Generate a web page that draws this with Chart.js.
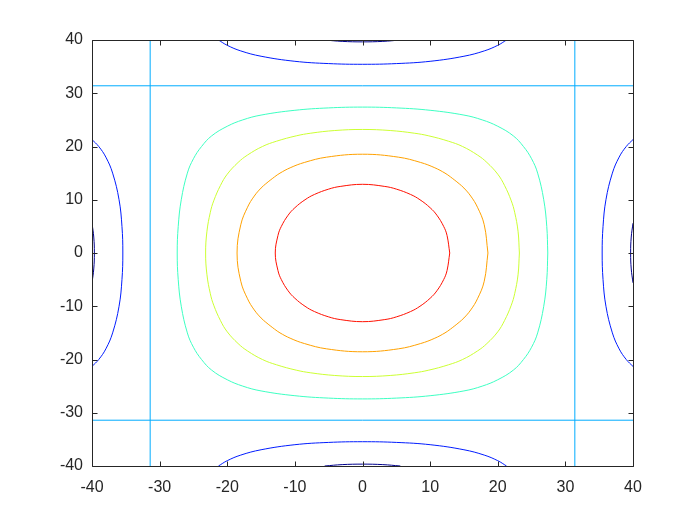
<!DOCTYPE html>
<html>
<head>
<meta charset="utf-8">
<script src="https://cdn.jsdelivr.net/npm/chart.js@4"></script>
<style>
html,body{margin:0;padding:0;background:#fff;}
canvas{display:block;}
</style>
</head>
<body>
<canvas id="c" width="700" height="525"></canvas>
<script>
// Axis tick values
const xTicks = [-40,-30,-20,-10,0,10,20,30,40];
const yTicks = [-40,-30,-20,-10,0,10,20,30,40];

// Contour levels and colours (jet colormap)
const levels = [0.8, 0.6, 0.4, 0.2, 0, -0.2, -0.4];
const levelColors = ['#ff1000','#ffa100','#ccff33','#3dffc2','#00acff','#001cff','#00008c'];

// Contour level 0.8 (red, closed loop)
const level08 = [[12.9,0],[12.5,3.3],[12,5],[11,7.1],[10,8.5],[8.5,10],[7.1,11],[5,12],[3.3,12.5],[0,12.9],
  [-3.3,12.5],[-5,12],[-7.1,11],[-8.5,10],[-10,8.5],[-11,7.1],[-12,5],[-12.5,3.3],[-12.9,0],
  [-12.5,-3.3],[-12,-5],[-11,-7.1],[-10,-8.5],[-8.5,-10],[-7.1,-11],[-5,-12],[-3.3,-12.5],[0,-12.9],
  [3.3,-12.5],[5,-12],[7.1,-11],[8.5,-10],[10,-8.5],[11,-7.1],[12,-5],[12.5,-3.3],[12.9,0]];

// Contour level 0.6 (orange, closed loop)
const level06 = [[18.55,0],[18,5.3],[17,8.6],[16,10.7],[15,12.2],[14.3,13],[13,14.3],[12.2,15],[10.7,16],[8.6,17],[5.3,18],[0,18.55],
  [-5.3,18],[-8.6,17],[-10.7,16],[-12.2,15],[-13,14.3],[-14.3,13],[-15,12.2],[-16,10.7],[-17,8.6],[-18,5.3],[-18.55,0],
  [-18,-5.3],[-17,-8.6],[-16,-10.7],[-15,-12.2],[-14.3,-13],[-13,-14.3],[-12.2,-15],[-10.7,-16],[-8.6,-17],[-5.3,-18],[0,-18.55],
  [5.3,-18],[8.6,-17],[10.7,-16],[12.2,-15],[13,-14.3],[14.3,-13],[15,-12.2],[16,-10.7],[17,-8.6],[18,-5.3],[18.55,0]];

// Contour level 0.4 (yellow, closed loop)
const level04 = [[23.2,0],[23,4.1],[22.5,7.65],[22,9.8],[21,12.7],[20,14.8],[18.4,17],[17,18.4],[14.8,20],[12.7,21],[9.8,22],[7.65,22.5],[4.1,23],[0,23.2],
  [-4.1,23],[-7.65,22.5],[-9.8,22],[-12.7,21],[-14.8,20],[-17,18.4],[-18.4,17],[-20,14.8],[-21,12.7],[-22,9.8],[-22.5,7.65],[-23,4.1],[-23.2,0],
  [-23,-4.1],[-22.5,-7.65],[-22,-9.8],[-21,-12.7],[-20,-14.8],[-18.4,-17],[-17,-18.4],[-14.8,-20],[-12.7,-21],[-9.8,-22],[-7.65,-22.5],[-4.1,-23],[0,-23.2],
  [4.1,-23],[7.65,-22.5],[9.8,-22],[12.7,-21],[14.8,-20],[17,-18.4],[18.4,-17],[20,-14.8],[21,-12.7],[22,-9.8],[22.5,-7.65],[23,-4.1],[23.2,0]];

// Contour level 0.2 (aquamarine, closed loop)
const level02 = [[27.4,0],[27.25,5],[26.8,10],[25.9,15],[25,17.7],[23.8,20],[22.3,22],[20,23.8],[17.7,25],[15,25.9],[10,26.8],[5,27.25],[0,27.4],
  [-5,27.25],[-10,26.8],[-15,25.9],[-17.7,25],[-20,23.8],[-22.3,22],[-23.8,20],[-25,17.7],[-25.9,15],[-26.8,10],[-27.25,5],[-27.4,0],
  [-27.25,-5],[-26.8,-10],[-25.9,-15],[-25,-17.7],[-23.8,-20],[-22.3,-22],[-20,-23.8],[-17.7,-25],[-15,-25.9],[-10,-26.8],[-5,-27.25],[0,-27.4],
  [5,-27.25],[10,-26.8],[15,-25.9],[17.7,-25],[20,-23.8],[22.3,-22],[23.8,-20],[25,-17.7],[25.9,-15],[26.8,-10],[27.25,-5],[27.4,0]];

// Contour level 0 (straight lines)
const level0Left = [[-31.4,-40],[-31.4,40]];
const level0Right = [[31.4,-40],[31.4,40]];
const level0Top = [[-40,31.4],[40,31.4]];
const level0Bottom = [[-40,-31.4],[40,-31.4]];

// Contour level -0.2 (blue arcs)
const levelM02Top = [[-21.3,40],[-20,39],[-18,37.95],[-15,36.95],[-10,36],[-5,35.57],[0,35.44],[5,35.57],[10,36],[15,36.95],[18,37.95],[20,39],[21.3,40]];
const levelM02Bottom = [[-21.3,-40],[-20,-39],[-18,-37.95],[-15,-36.95],[-10,-36],[-5,-35.57],[0,-35.44],[5,-35.57],[10,-36],[15,-36.95],[18,-37.95],[20,-39],[21.3,-40]];
const levelM02Left = [[-40,-21.3],[-39,-20],[-37.95,-18],[-36.95,-15],[-36,-10],[-35.57,-5],[-35.44,0],[-35.57,5],[-36,10],[-36.95,15],[-37.95,18],[-39,20],[-40,21.3]];
const levelM02Right = [[40,-21.3],[39,-20],[37.95,-18],[36.95,-15],[36,-10],[35.57,-5],[35.44,0],[35.57,5],[36,10],[36.95,15],[37.95,18],[39,20],[40,21.3]];

// Contour level -0.4 (dark blue arcs at the edges)
const levelM04Top = [[-5.6,40],[-3,39.74],[0,39.65],[3,39.74],[5.6,40]];
const levelM04Bottom = [[-5.6,-40],[-3,-39.74],[0,-39.65],[3,-39.74],[5.6,-40]];
const levelM04Left = [[-40,-5.6],[-39.74,-3],[-39.65,0],[-39.74,3],[-40,5.6]];
const levelM04Right = [[40,-5.6],[39.74,-3],[39.65,0],[39.74,3],[40,5.6]];

const contourSets = [
  {pts: level08, lvl: 0, curved: true},
  {pts: level06, lvl: 1, curved: true},
  {pts: level04, lvl: 2, curved: true},
  {pts: level02, lvl: 3, curved: true},
  {pts: level0Left, lvl: 4, curved: false},
  {pts: level0Right, lvl: 4, curved: false},
  {pts: level0Top, lvl: 4, curved: false},
  {pts: level0Bottom, lvl: 4, curved: false},
  {pts: levelM02Top, lvl: 5, curved: true},
  {pts: levelM02Bottom, lvl: 5, curved: true},
  {pts: levelM02Left, lvl: 5, curved: true},
  {pts: levelM02Right, lvl: 5, curved: true},
  {pts: levelM04Top, lvl: 6, curved: true},
  {pts: levelM04Bottom, lvl: 6, curved: true},
  {pts: levelM04Left, lvl: 6, curved: true},
  {pts: levelM04Right, lvl: 6, curved: true}
];

const datasets = contourSets.map(s => ({
  label: 'level ' + levels[s.lvl],
  data: s.pts.map(p => ({x: p[0], y: p[1]})),
  showLine: true,
  borderColor: levelColors[s.lvl],
  backgroundColor: levelColors[s.lvl],
  borderWidth: 1,
  pointRadius: 0,
  pointHoverRadius: 0,
  fill: false,
  tension: s.curved ? 0.4 : 0
}));

const AXIS_COLOR = '#262626';

const boxPlugin = {
  id: 'matlabBox',
  afterDatasetsDraw(chart) {
    const ctx = chart.ctx;
    const a = chart.chartArea;
    const xs = chart.scales.x, ys = chart.scales.y;
    ctx.save();
    ctx.strokeStyle = AXIS_COLOR;
    ctx.lineWidth = 1;
    const L = Math.round(a.left) + 0.5, R = Math.round(a.right) + 0.5;
    const T = Math.round(a.top) + 0.5, B = Math.round(a.bottom) + 0.5;
    ctx.beginPath();
    ctx.rect(L, T, R - L, B - T);
    ctx.stroke();
    const tl = 5;
    ctx.beginPath();
    xTicks.forEach(v => {
      const px = Math.round(xs.getPixelForValue(v)) + 0.5;
      ctx.moveTo(px, B); ctx.lineTo(px, B - tl);
      ctx.moveTo(px, T); ctx.lineTo(px, T + tl);
    });
    yTicks.forEach(v => {
      const py = Math.round(ys.getPixelForValue(v)) + 0.5;
      ctx.moveTo(L, py); ctx.lineTo(L + tl, py);
      ctx.moveTo(R, py); ctx.lineTo(R - tl, py);
    });
    ctx.stroke();
    ctx.restore();
  }
};

new Chart(document.getElementById('c'), {
  type: 'scatter',
  data: { datasets },
  options: {
    responsive: false,
    animation: false,
    devicePixelRatio: 1,
    layout: { padding: { top: 40, right: 67, left: 0, bottom: 0 } },
    plugins: { legend: { display: false }, tooltip: { enabled: false } },
    events: [],
    scales: {
      x: {
        type: 'linear', min: -40, max: 40,
        afterBuildTicks: s => { s.ticks = xTicks.map(v => ({value: v})); },
        afterFit: s => { s.height = 59; },
        grid: { display: false, drawTicks: false },
        border: { display: false },
        ticks: { color: AXIS_COLOR, font: { family: 'Liberation Sans, Arial, sans-serif', size: 16 }, padding: 12, maxRotation: 0, autoSkip: false }
      },
      y: {
        type: 'linear', min: -40, max: 40,
        afterBuildTicks: s => { s.ticks = yTicks.map(v => ({value: v})); },
        afterFit: s => { s.width = 92; },
        grid: { display: false, drawTicks: false },
        border: { display: false },
        ticks: { color: AXIS_COLOR, font: { family: 'Liberation Sans, Arial, sans-serif', size: 16 }, padding: 9, autoSkip: false }
      }
    }
  },
  plugins: [boxPlugin]
});
</script>
</body>
</html>
